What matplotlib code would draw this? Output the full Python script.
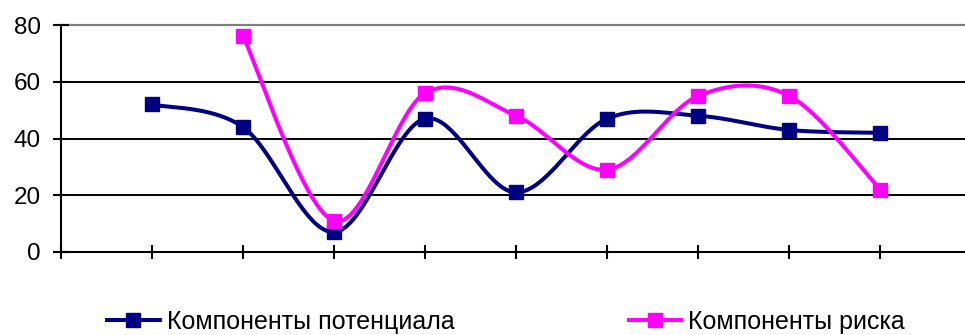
import numpy as np
import matplotlib.pyplot as plt

plt.rcParams['font.family'] = ['Liberation Sans', 'DejaVu Sans']

# category slots 1..9 (slot 0 sits on the value axis and is left empty)
potential = [52, 44, 7, 47, 21, 47, 48, 43, 42]
risk = [None, 76, 11, 56, 48, 29, 55, 55, 22]
labels = ['Компоненты потенциала', 'Компоненты риска']
colors = ['#000080', '#FF00FF']


def smooth(xs, ys, n=40):
    # Excel-style smoothed line: cubic Bezier with Catmull-Rom control points
    pts = np.column_stack([xs, ys]).astype(float)
    padded = np.vstack([pts[:1], pts, pts[-1:]])
    out = []
    t = np.linspace(0, 1, n)[:, None]
    for i in range(len(pts) - 1):
        p0, p1, p2, p3 = padded[i], padded[i + 1], padded[i + 2], padded[i + 3]
        c1 = p1 + (p2 - p0) / 6
        c2 = p2 - (p3 - p1) / 6
        seg = ((1 - t) ** 3 * p1 + 3 * (1 - t) ** 2 * t * c1
               + 3 * (1 - t) * t ** 2 * c2 + t ** 3 * p2)
        out.append(seg if i == 0 else seg[1:])
    out = np.vstack(out)
    return out[:, 0], out[:, 1]


fig = plt.figure(figsize=(9.65, 3.35), dpi=100)
ax = fig.add_axes([61 / 965, 83 / 335, 904 / 965, 227 / 335])

handles = []
for series, color, label in zip([potential, risk], colors, labels):
    xs = [i + 1 for i, v in enumerate(series) if v is not None]
    ys = [v for v in series if v is not None]
    sx, sy = smooth(xs, ys)
    ax.plot(sx, sy, color=color, lw=2.9, solid_capstyle='round', zorder=3)
    ax.plot(xs, ys, ls='none', marker='s', ms=10.5, color=color, zorder=4)
    h, = ax.plot([], [], color=color, lw=2.9, marker='s', ms=10.5)
    handles.append(h)

ax.set_xlim(0, 9.93)
ax.set_ylim(0, 80)
ax.set_yticks([0, 20, 40, 60, 80])
ax.set_xticks(np.arange(0, 10))
ax.set_xticklabels([])

for y in [20, 40, 60]:
    ax.axhline(y, color='black', lw=1.4, zorder=1)
ax.axhline(80, color='#808080', lw=1.6, zorder=1, clip_on=False)

for side in ['top', 'right']:
    ax.spines[side].set_visible(False)
for side in ['left', 'bottom']:
    ax.spines[side].set_linewidth(1.5)

ax.tick_params(axis='y', direction='inout', length=11, width=1.5,
               pad=9, labelsize=17.5)
ax.tick_params(axis='x', direction='inout', length=10, width=1.5)

fig.legend(handles, labels, loc='center left', bbox_to_anchor=(107 / 965, 13 / 335),
           ncol=2, frameon=False, fontsize=18, handlelength=2.1,
           handletextpad=0.3, columnspacing=6.95, borderpad=0, borderaxespad=0)

fig.savefig('out.png', dpi=100)
